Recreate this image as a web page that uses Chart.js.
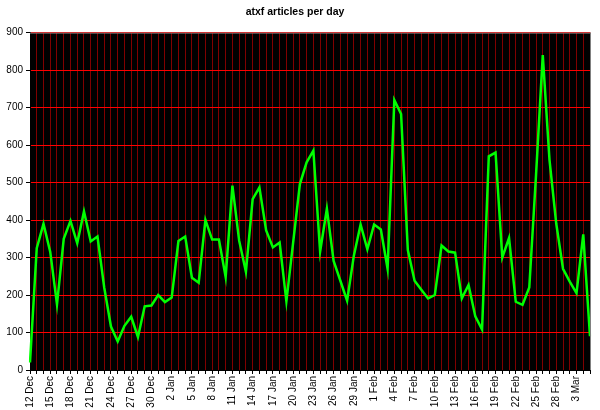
<!DOCTYPE html>
<html>
<head>
<meta charset="utf-8">
<script src="https://cdn.jsdelivr.net/npm/chart.js@4/dist/chart.umd.min.js"></script>
<style>
  body { margin: 0; background: #fff; }
</style>
</head>
<body>
<canvas id="line-chart" width="600" height="410"></canvas>
<script>
// one entry per day, 12 Dec .. 5 Mar
const days = [
  "12 Dec","13 Dec","14 Dec","15 Dec","16 Dec","17 Dec","18 Dec","19 Dec","20 Dec","21 Dec",
  "22 Dec","23 Dec","24 Dec","25 Dec","26 Dec","27 Dec","28 Dec","29 Dec","30 Dec","31 Dec",
  "1 Jan","2 Jan","3 Jan","4 Jan","5 Jan","6 Jan","7 Jan","8 Jan","9 Jan","10 Jan",
  "11 Jan","12 Jan","13 Jan","14 Jan","15 Jan","16 Jan","17 Jan","18 Jan","19 Jan","20 Jan",
  "21 Jan","22 Jan","23 Jan","24 Jan","25 Jan","26 Jan","27 Jan","28 Jan","29 Jan","30 Jan",
  "31 Jan","1 Feb","2 Feb","3 Feb","4 Feb","5 Feb","6 Feb","7 Feb","8 Feb","9 Feb",
  "10 Feb","11 Feb","12 Feb","13 Feb","14 Feb","15 Feb","16 Feb","17 Feb","18 Feb","19 Feb",
  "20 Feb","21 Feb","22 Feb","23 Feb","24 Feb","25 Feb","26 Feb","27 Feb","28 Feb","1 Mar",
  "2 Mar","3 Mar","4 Mar","5 Mar"
];

// articles per day
const articles = [
  20, 325, 390, 315, 175, 350, 398, 338, 423, 343,
  356, 220, 116, 76, 118, 142, 88, 170, 172, 200,
  181, 193, 344, 356, 246, 233, 400, 348, 348, 248,
  492, 345, 262, 456, 487, 372, 327, 340, 183, 340,
  496, 554, 585, 316, 430, 291, 238, 185, 305, 388,
  322, 388, 375, 270, 720, 683, 320, 238, 214, 191,
  200, 332, 316, 313, 191, 227, 143, 108, 570, 580,
  300, 352, 182, 174, 220, 520, 840, 560, 390, 270,
  236, 205, 362, 90
];

const yTicks = [0, 100, 200, 300, 400, 500, 600, 700, 800, 900];
const labelEvery = 3;

const FONT = "'Liberation Sans', Arial, sans-serif";

// black plot background + grey frame on top/right
const plotFrame = {
  id: 'plotFrame',
  beforeDraw(chart) {
    const { ctx, chartArea: a } = chart;
    ctx.save();
    ctx.fillStyle = '#000000';
    ctx.fillRect(a.left, a.top, a.right - a.left, a.bottom - a.top);
    ctx.restore();
  },
  afterDatasetsDraw(chart) {
    const { ctx, chartArea: a } = chart;
    ctx.save();
    ctx.strokeStyle = '#808080';
    ctx.lineWidth = 1;
    ctx.beginPath();
    ctx.moveTo(a.left, a.top + 0.5);
    ctx.lineTo(a.right + 0.5, a.top + 0.5);
    ctx.lineTo(a.right + 0.5, a.bottom);
    ctx.stroke();
    ctx.restore();
  }
};

new Chart(document.getElementById("line-chart"), {
  type: 'line',
  data: {
    labels: days,
    datasets: [{
      label: "articles",
      data: articles,
      borderColor: "#00ff00",
      borderWidth: 2.5,
      pointRadius: 0,
      tension: 0,
      fill: false
    }]
  },
  plugins: [plotFrame],
  options: {
    responsive: false,
    animation: false,
    devicePixelRatio: 1,
    layout: { padding: { left: 0, right: 10, top: 0, bottom: 0 } },
    plugins: {
      legend: { display: false },
      tooltip: { enabled: false },
      title: {
        display: true,
        text: "atxf articles per day",
        color: "#000",
        font: { family: FONT, size: 10.5, weight: 'bold' },
        padding: { top: 6, bottom: 14 }
      }
    },
    scales: {
      x: {
        offset: false,
        grid: { color: "#800000", lineWidth: 1, tickColor: "#000", tickLength: 4 },
        border: { color: "#000" },
        ticks: {
          autoSkip: false,
          minRotation: 90,
          maxRotation: 90,
          padding: 2,
          color: "#000",
          font: { family: FONT, size: 10 },
          callback: function (v, i) {
            return i % labelEvery === 0 ? this.getLabelForValue(v) : '';
          }
        },
        afterFit(s) {
          s.height = 40;
          s.paddingLeft = 0;
          s.paddingRight = 0;
        }
      },
      y: {
        min: yTicks[0],
        max: yTicks[yTicks.length - 1],
        afterBuildTicks(s) { s.ticks = yTicks.map(v => ({ value: v })); },
        grid: { color: "#ff0000", lineWidth: 1, tickColor: "#000", tickLength: 4 },
        border: { color: "#000" },
        ticks: {
          padding: 3,
          color: "#000",
          font: { family: FONT, size: 10 }
        },
        afterFit(s) { s.width = 30; }
      }
    }
  }
});
</script>
</body>
</html>
